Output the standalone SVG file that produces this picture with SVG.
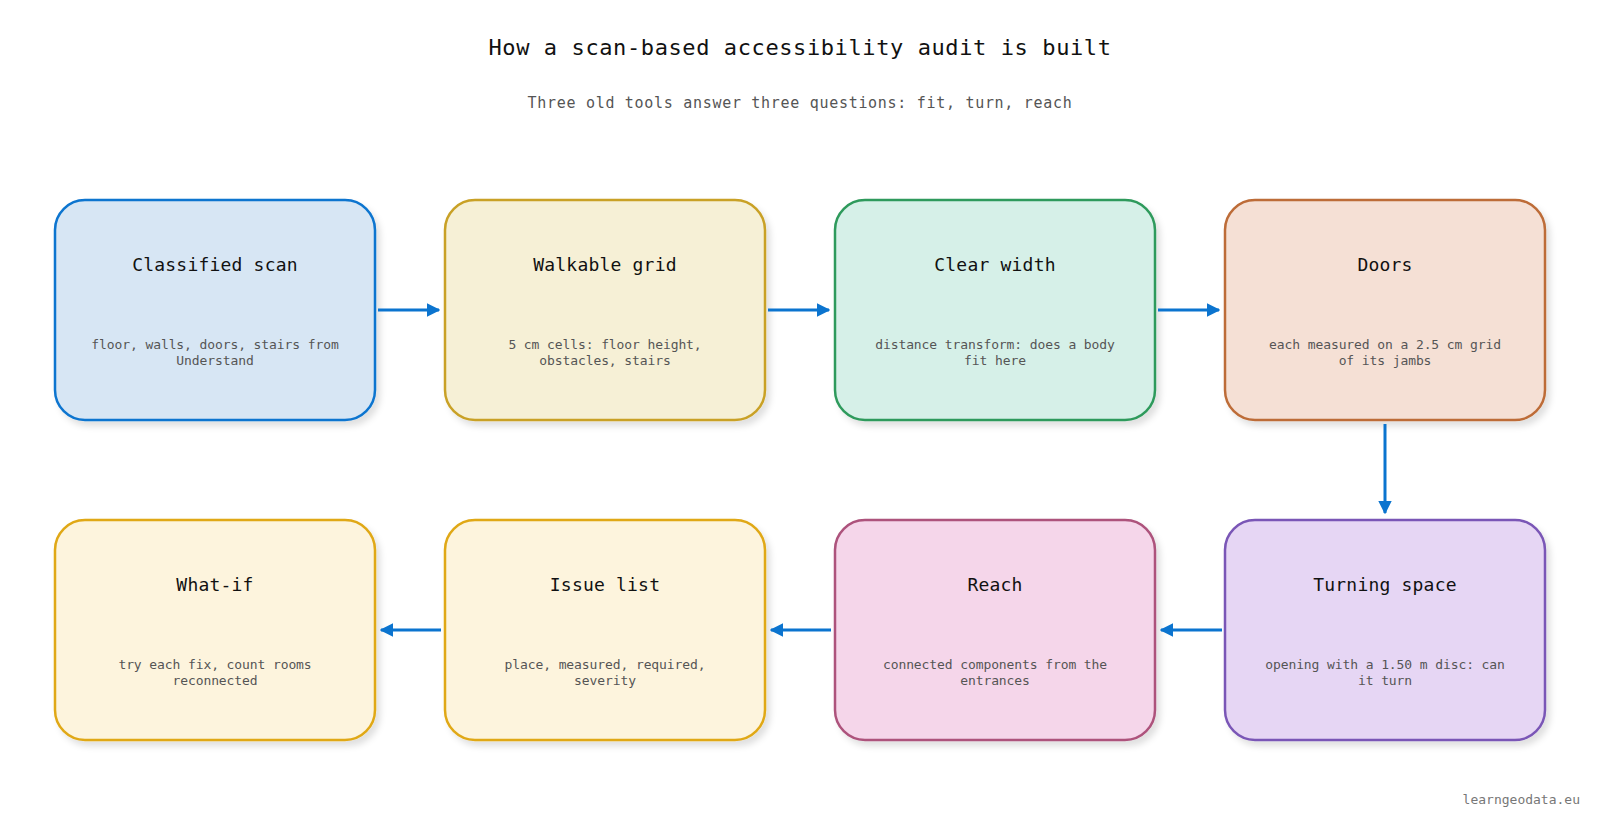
<svg xmlns="http://www.w3.org/2000/svg" width="1600" height="820" viewBox="0 0 1600 820">
<style>
.ttl{font-family:"DejaVu Sans Mono","Liberation Mono",monospace;font-size:22px;fill:#111;text-anchor:middle;letter-spacing:0.6px}
.sub{font-family:"DejaVu Sans Mono","Liberation Mono",monospace;font-size:15px;fill:#555;text-anchor:middle;letter-spacing:0.7px}
.nt{font-family:"DejaVu Sans Mono","Liberation Mono",monospace;font-size:18px;fill:#111;text-anchor:middle;letter-spacing:0.2px}
.nd{font-family:"DejaVu Sans Mono","Liberation Mono",monospace;font-size:13px;fill:#555;text-anchor:middle;letter-spacing:-0.1px}
.foot{font-family:"DejaVu Sans Mono","Liberation Mono",monospace;font-size:13px;fill:#777;text-anchor:end}
.box{stroke-width:2.5;filter:url(#sh)}
.conn{stroke:#0b74cf;stroke-width:3;fill:none;marker-end:url(#ah)}
</style>
<defs>
<filter id="sh" x="-10%" y="-10%" width="125%" height="130%">
<feDropShadow dx="4" dy="5" stdDeviation="3" flood-color="#000" flood-opacity="0.12"/>
</filter>
<marker id="ah" viewBox="0 0 10 10" refX="9" refY="5" markerWidth="4.5" markerHeight="4.5" orient="auto">
<path d="M0,0 L10,5 L0,10 z" fill="#0b74cf"/>
</marker>
</defs>
<rect width="1600" height="820" fill="#fff"/>
<text class="ttl" x="800" y="55">How a scan-based accessibility audit is built</text>
<text class="sub" x="800" y="108">Three old tools answer three questions: fit, turn, reach</text>

<g id="n1"><rect class="box" x="55" y="200" width="320" height="220" rx="30" fill="#d7e6f4" stroke="#0b74cf"/>
<text class="nt" x="215" y="271">Classified scan</text>
<text class="nd" x="215" y="349">floor, walls, doors, stairs from</text><text class="nd" x="215" y="365">Understand</text></g>

<g id="n2"><rect class="box" x="445" y="200" width="320" height="220" rx="30" fill="#f6f0d6" stroke="#c9a127"/>
<text class="nt" x="605" y="271">Walkable grid</text>
<text class="nd" x="605" y="349">5 cm cells: floor height,</text><text class="nd" x="605" y="365">obstacles, stairs</text></g>

<g id="n3"><rect class="box" x="835" y="200" width="320" height="220" rx="30" fill="#d6f0e8" stroke="#2f9a5c"/>
<text class="nt" x="995" y="271">Clear width</text>
<text class="nd" x="995" y="349">distance transform: does a body</text><text class="nd" x="995" y="365">fit here</text></g>

<g id="n4"><rect class="box" x="1225" y="200" width="320" height="220" rx="30" fill="#f5e0d5" stroke="#bd6c38"/>
<text class="nt" x="1385" y="271">Doors</text>
<text class="nd" x="1385" y="349">each measured on a 2.5 cm grid</text><text class="nd" x="1385" y="365">of its jambs</text></g>

<g id="n5"><rect class="box" x="1225" y="520" width="320" height="220" rx="30" fill="#e6d6f4" stroke="#7a56b6"/>
<text class="nt" x="1385" y="591">Turning space</text>
<text class="nd" x="1385" y="669">opening with a 1.50 m disc: can</text><text class="nd" x="1385" y="685">it turn</text></g>

<g id="n6"><rect class="box" x="835" y="520" width="320" height="220" rx="30" fill="#f5d6ea" stroke="#ad527c"/>
<text class="nt" x="995" y="591">Reach</text>
<text class="nd" x="995" y="669">connected components from the</text><text class="nd" x="995" y="685">entrances</text></g>

<g id="n7"><rect class="box" x="445" y="520" width="320" height="220" rx="30" fill="#fdf4dd" stroke="#e0a817"/>
<text class="nt" x="605" y="591">Issue list</text>
<text class="nd" x="605" y="669">place, measured, required,</text><text class="nd" x="605" y="685">severity</text></g>

<g id="n8"><rect class="box" x="55" y="520" width="320" height="220" rx="30" fill="#fdf4dd" stroke="#e0a817"/>
<text class="nt" x="215" y="591">What-if</text>
<text class="nd" x="215" y="669">try each fix, count rooms</text><text class="nd" x="215" y="685">reconnected</text></g>

<g id="connectors">
<line class="conn" x1="378" y1="310" x2="439" y2="310"/>
<line class="conn" x1="768" y1="310" x2="829" y2="310"/>
<line class="conn" x1="1158" y1="310" x2="1219" y2="310"/>
<line class="conn" x1="1385" y1="424" x2="1385" y2="513"/>
<line class="conn" x1="1222" y1="630" x2="1161" y2="630"/>
<line class="conn" x1="831" y1="630" x2="771" y2="630"/>
<line class="conn" x1="441" y1="630" x2="381" y2="630"/>
</g>
<text class="foot" x="1580" y="804">learngeodata.eu</text>
</svg>
